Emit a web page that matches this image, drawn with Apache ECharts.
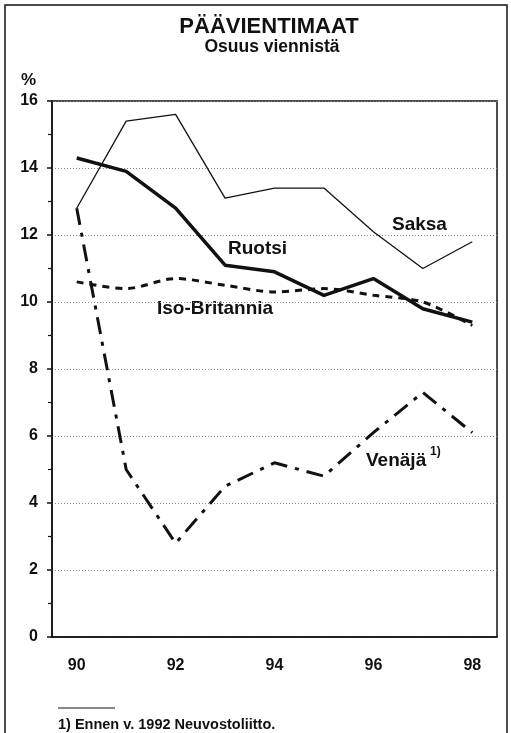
<!DOCTYPE html>
<html>
<head>
<meta charset="utf-8">
<script src="https://cdn.jsdelivr.net/npm/echarts@6/dist/echarts.min.js"></script>
<style>
  html, body { margin: 0; padding: 0; background: #fff; }
  #chart { width: 511px; height: 733px; }
</style>
</head>
<body>
<div id="chart"></div>
<script>
// vuodet (x-akseli)
const years = ['90', '91', '92', '93', '94', '95', '96', '97', '98'];

// osuus viennistä, %
const saksa = [12.8, 15.4, 15.6, 13.1, 13.4, 13.4, 12.1, 11.0, 11.8];
const ruotsi = [14.3, 13.9, 12.8, 11.1, 10.9, 10.2, 10.7, 9.8, 9.4];
const isoBritannia = [10.6, 10.4, 10.7, 10.5, 10.3, 10.4, 10.2, 10.0, 9.3];
const venaja = [12.8, 5.0, 2.8, 4.5, 5.2, 4.8, 6.1, 7.3, 6.1];

const FONT = '"Liberation Sans", Arial, sans-serif';
const INK = '#111';

const chart = echarts.init(document.getElementById('chart'), null, { renderer: 'canvas' });

const txt = (x, y, text, size, align) => ({
  type: 'text',
  x, y,
  style: {
    text, fill: INK, font: `bold ${size}px ${FONT}`,
    textAlign: align || 'left', textVerticalAlign: 'middle'
  }
});

const option = {
  animation: false,
  backgroundColor: '#fff',
  grid: {
    left: 52, right: 14, top: 101, bottom: 96,
    show: true, borderColor: INK, borderWidth: 1.5
  },
  xAxis: {
    type: 'category',
    data: years,
    boundaryGap: true,
    axisLine: { lineStyle: { color: INK, width: 1.5 } },
    axisTick: { interval: 0, length: 5, lineStyle: { color: INK, width: 1.5 } },
    axisLabel: {
      interval: 1, margin: 21, color: INK,
      fontFamily: FONT, fontWeight: 'bold', fontSize: 16
    },
    splitLine: { show: false }
  },
  yAxis: {
    type: 'value',
    min: 0, max: 16, interval: 2,
    axisLine: { show: true, lineStyle: { color: INK, width: 1.5 } },
    axisTick: { show: true, length: 5, lineStyle: { color: INK, width: 1.5 } },
    minorTick: { show: true, splitNumber: 2, length: 4, lineStyle: { color: INK, width: 1.2 } },
    axisLabel: {
      margin: 14, color: INK,
      fontFamily: FONT, fontWeight: 'bold', fontSize: 16
    },
    splitLine: { lineStyle: { color: '#888', width: 1, type: [1, 2] } }
  },
  series: [
    {
      name: 'Saksa', type: 'line', data: saksa, symbol: 'none',
      lineStyle: { color: INK, width: 1.3 }
    },
    {
      name: 'Ruotsi', type: 'line', data: ruotsi, symbol: 'none',
      lineStyle: { color: INK, width: 3.5 }
    },
    {
      name: 'Iso-Britannia', type: 'line', data: isoBritannia, symbol: 'none',
      smooth: 0.3,
      lineStyle: { color: INK, width: 3, type: [7, 6] }
    },
    {
      name: 'Venäjä', type: 'line', data: venaja, symbol: 'none',
      lineStyle: { color: INK, width: 3, type: [17, 8, 4, 8] }
    }
  ],
  graphic: [
    // kehys
    {
      type: 'rect', shape: { x: 5, y: 5, width: 502, height: 745 },
      style: { fill: 'none', stroke: INK, lineWidth: 1.5 }, silent: true
    },
    txt(269, 27, 'PÄÄVIENTIMAAT', 22, 'center'),
    txt(272, 47, 'Osuus viennistä', 17.5, 'center'),
    txt(21, 80, '%', 17),
    txt(392, 225, 'Saksa', 19),
    txt(228, 249, 'Ruotsi', 19),
    txt(157, 309, 'Iso-Britannia', 19),
    txt(366, 461, 'Venäjä', 19),
    txt(430, 452, '1)', 12),
    {
      type: 'line', shape: { x1: 58, y1: 708, x2: 115, y2: 708 },
      style: { stroke: INK, lineWidth: 1.2 }
    },
    txt(58, 725, '1) Ennen v. 1992 Neuvostoliitto.', 14.5)
  ]
};

chart.setOption(option);
</script>
</body>
</html>
